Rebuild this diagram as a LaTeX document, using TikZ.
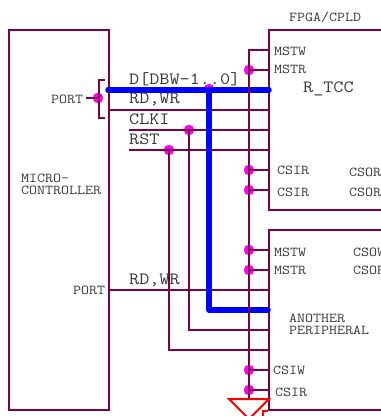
\documentclass[tikz,border=0pt]{standalone}
\usepackage{xcolor}
\usepackage{fontspec}
\usepackage{tikz}
\usetikzlibrary{positioning}
\setmonofont[FakeStretch=1.14]{Latin Modern Mono}
\definecolor{wirered}{HTML}{800040}
\definecolor{labelgray}{HTML}{383838}
\definecolor{dotpink}{HTML}{FF00FF}
\definecolor{busblue}{HTML}{0000FF}
\definecolor{groundred}{HTML}{FF0000}

\begin{document}
\begin{tikzpicture}
    [
    x=1pt, y=-1pt,
    box/.style = {draw=wirered, line width=2pt, rectangle, inner sep=0pt},
    wire/.style = {draw=wirered, line width=2pt},
    bus/.style = {draw=busblue, line width=5.5pt, line cap=round, line join=round},
    dot/.style = {circle, fill=dotpink, inner sep=0pt, minimum size=10.5pt},
    pin/.style = {anchor=west, inner sep=0pt, text=labelgray, font=\fontsize{13.6}{12}\selectfont\ttfamily},
    sig/.style = {anchor=west, inner sep=0pt, text=labelgray, font=\fontsize{17.2}{17.2}\selectfont\ttfamily},
    ]

    \clip (0,0) rectangle (381,416);

% Nodes
    \node[box, minimum width=100pt, minimum height=380pt] (mcu) at (59,220) {};
    \node[box, minimum width=160pt, minimum height=180pt] (fpga) at (349,120) {};
    \node[box, minimum width=160pt, minimum height=180pt] (periph) at (349,320) {};

% Dots
    \node[dot] (portdot) at (98,98) {};
    \node[dot] (busdot) at (209,89) {};
    \node[dot] (clkdot) at (189,130) {};
    \node[dot] (rstdot) at (169,150) {};
    \node[dot] (mstrA) at (249,70) {};
    \node[dot] (csirA) at (249,170) {};
    \node[dot] (csirB) at (249,190) {};
    \node[dot] (mstwB) at (249,250) {};
    \node[dot] (mstrB) at (249,270) {};
    \node[dot] (csiwB) at (249,370) {};
    \node[dot] (csirC) at (249,390) {};

% Free ends
    \coordinate (mstwcorner) at (249,50);
    \coordinate (portstub) at (86,98);
    \coordinate (clkstart) at (129,130);
    \coordinate (rststart) at (129,150);
    \coordinate (busstart) at (108,90);
    \coordinate (busend) at (269,90);
    \coordinate (buscorner) at (209,310);
    \coordinate (clkcorner) at (189,330);
    \coordinate (rstcorner) at (169,350);
    \coordinate (rdwrA) at (109,110);
    \coordinate (rdwrB) at (109,290);
    \coordinate (brackettop) at (105,80);
    \coordinate (bracketbot) at (105,118);
    \coordinate (bracketmid) at (99,98);
    \coordinate (groundtip) at (249,419);
    \coordinate (groundleft) at (229,399);
    \coordinate (groundright) at (269,399);
    \coordinate (redcorner) at (263,411);
    \coordinate (redend) at (263,418);

% Arrows
    \draw[wire] (portstub) -- (portdot.center);
    \draw[wire] (brackettop) -| (bracketmid) |- (bracketbot);
    \draw[wire] (rdwrA) -- (rdwrA -| fpga.west);
    \draw[wire] (clkstart) -- (clkstart -| fpga.west);
    \draw[wire] (rststart) -- (rststart -| fpga.west);
    \draw[wire] (rdwrB) -- (rdwrB -| periph.west);
    \draw[wire] (clkdot.center) -- (clkcorner) -- (clkcorner -| periph.west);
    \draw[wire] (rstdot.center) -- (rstcorner) -- (rstcorner -| periph.west);
    \draw[bus] (busstart) -- (busend);
    \draw[bus] (busdot.center |- busstart) -- (buscorner) -- (buscorner -| periph.west);
    \draw[wire] (mstwcorner -| fpga.west) -- (mstwcorner) -- (groundleft -| mstwcorner);
    \draw[wire] (mstrA.center) -- (mstrA -| fpga.west);
    \draw[wire] (csirA.center) -- (csirA -| fpga.west);
    \draw[wire] (csirB.center) -- (csirB -| fpga.west);
    \draw[wire] (mstwB.center) -- (mstwB -| periph.west);
    \draw[wire] (mstrB.center) -- (mstrB -| periph.west);
    \draw[wire] (csiwB.center) -- (csiwB -| periph.west);
    \draw[wire] (csirC.center) -- (csirC -| periph.west);
    \draw[groundred, line width=2pt] (groundleft) -- (groundright) -- (groundtip) -- cycle;
    \draw[groundred, line width=2pt] (redend) -- (redcorner) -- (redcorner -| periph.west);

% Labels
    \node[pin] (fpgalabel) at (289,17) {FPGA/CPLD};
    \node[pin] (mcuportA) at (51,99) {PORT};
    \node[pin] (mcuportB) at (73,290) {PORT};
    \node[pin, align=left] (mculabel) at (21,184) {MICRO-\\CONTROLLER};
    \node[sig] (datalabel) at (129,79) {D[DBW-1..0]};
    \node[sig] (rdwrlabelA) at (129,99) {RD,WR};
    \node[sig] (clklabel) at (129,119) {CLKI};
    \node[sig] (rstlabel) at (129,139) {RST};
    \node[sig] (rdwrlabelB) at (129,280) {RD,WR};
    \node[sig] (tcclabel) at (303,89) {R\_TCC};
    \node[pin] (mstwtextA) at (274,51) {MSTW};
    \node[pin] (mstrtextA) at (274,69) {MSTR};
    \node[pin] (csirtextA) at (277,170) {CSIR};
    \node[pin] (csirtextB) at (277,192) {CSIR};
    \node[pin] (csortextA) at (349,172) {CSOR};
    \node[pin] (csortextB) at (349,192) {CSOR};
    \node[pin] (mstwtextB) at (274,252) {MSTW};
    \node[pin] (mstrtextB) at (274,270) {MSTR};
    \node[pin] (csowtext) at (353,252) {CSOW};
    \node[pin] (csortextC) at (353,270) {CSOR};
    \node[pin, align=left] (periphtext) at (289,324) {ANOTHER\\PERIPHERAL};
    \node[pin] (csiwtext) at (273,370) {CSIW};
    \node[pin] (csirtextC) at (275,392) {CSIR};

\end{tikzpicture}
\end{document}
